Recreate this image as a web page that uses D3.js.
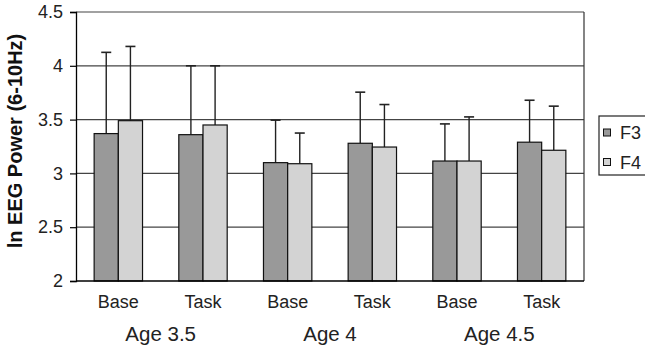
<!DOCTYPE html>
<html><head><meta charset="utf-8">
<script src="https://cdn.jsdelivr.net/npm/d3@7"></script>
<style>body{margin:0;background:#fff;} svg{display:block;}</style>
</head><body>
<script>
const conditions = ["Base","Task","Base","Task","Base","Task"];
const ages = ["Age 3.5","Age 4","Age 4.5"];
const series = ["F3","F4"];
const f3Means = [3.37, 3.36, 3.10, 3.28, 3.115, 3.29];
const f4Means = [3.49, 3.45, 3.09, 3.245, 3.115, 3.215];
const f3Upper = [4.125, 4.0, 3.495, 3.755, 3.46, 3.68];
const f4Upper = [4.18, 4.0, 3.375, 3.64, 3.525, 3.625];
const yTicks = [2, 2.5, 3, 3.5, 4, 4.5];
const colors = ["#999999", "#d3d3d3"];

const FONT = "Arial, 'Liberation Sans', sans-serif";
const W = 645, H = 350;
const m = {left: 76, right: 61, top: 12, bottom: 69};
const svg = d3.select("body").append("svg").attr("width", W).attr("height", H);
const iw = W - m.left - m.right, ih = H - m.top - m.bottom;
const g = svg.append("g").attr("transform", `translate(${m.left},${m.top})`);

const idx = d3.range(conditions.length);
const x = d3.scaleBand().domain(idx).range([0, iw]).paddingInner(0.4286).paddingOuter(0.2143);
const xs = d3.scaleBand().domain(series).range([0, x.bandwidth()]);
const y = d3.scaleLinear().domain([2, 4.5]).range([ih, 0]);

// gridlines
g.append("g").selectAll("line").data(yTicks.filter(t => t > 2)).join("line")
  .attr("x1", 0).attr("x2", iw).attr("y1", d => y(d)).attr("y2", d => y(d))
  .attr("stroke", "#444").attr("stroke-width", 1.2);

// y axis
const ya = g.append("g").call(d3.axisLeft(y).tickValues(yTicks).tickSize(6).tickPadding(7).tickFormat(d3.format("")));
ya.select(".domain").attr("stroke", "#000").attr("stroke-width", 1.3);
ya.selectAll(".tick line").attr("stroke", "#000").attr("stroke-width", 1.2);
ya.selectAll("text").attr("font-family", FONT).attr("font-size", 18).attr("fill", "#222");

// right border
g.append("line").attr("x1", iw).attr("x2", iw).attr("y1", 0).attr("y2", ih).attr("stroke", "#333").attr("stroke-width", 1.2);

const data = [];
idx.forEach(i => {
  data.push({i, s: "F3", v: f3Means[i], u: f3Upper[i], c: colors[0]});
  data.push({i, s: "F4", v: f4Means[i], u: f4Upper[i], c: colors[1]});
});

// error bars
const eb = g.append("g").selectAll("g").data(data).join("g");
eb.append("line")
  .attr("x1", d => x(d.i) + xs(d.s) + xs.bandwidth()/2)
  .attr("x2", d => x(d.i) + xs(d.s) + xs.bandwidth()/2)
  .attr("y1", d => y(d.v)).attr("y2", d => y(d.u))
  .attr("stroke", "#222").attr("stroke-width", 1.4);
eb.append("line")
  .attr("x1", d => x(d.i) + xs(d.s) + xs.bandwidth()/2 - 5)
  .attr("x2", d => x(d.i) + xs(d.s) + xs.bandwidth()/2 + 5)
  .attr("y1", d => y(d.u)).attr("y2", d => y(d.u))
  .attr("stroke", "#222").attr("stroke-width", 1.6);

// bars
g.append("g").selectAll("rect").data(data).join("rect")
  .attr("x", d => x(d.i) + xs(d.s))
  .attr("width", xs.bandwidth())
  .attr("y", d => y(d.v))
  .attr("height", d => y(2) - y(d.v))
  .attr("fill", d => d.c).attr("stroke", "#111").attr("stroke-width", 1.2);

// x axis baseline
g.append("line").attr("x1", 0).attr("x2", iw).attr("y1", ih).attr("y2", ih).attr("stroke", "#000").attr("stroke-width", 1.3);

// condition labels
g.append("g").selectAll("text").data(idx).join("text")
  .attr("x", d => x(d) + x.bandwidth()/2).attr("y", ih + 27)
  .attr("text-anchor", "middle")
  .attr("font-family", FONT).attr("font-size", 18).attr("fill", "#222")
  .text(d => conditions[d]);

// age labels
g.append("g").selectAll("text").data(ages).join("text")
  .attr("x", (d, k) => (x(2*k) + x(2*k+1) + x.bandwidth())/2).attr("y", ih + 60)
  .attr("text-anchor", "middle")
  .attr("font-family", FONT).attr("font-size", 20.5).attr("fill", "#222")
  .text(d => d);

// y title
svg.append("text")
  .attr("transform", `translate(22,141) rotate(-90)`)
  .attr("text-anchor", "middle")
  .attr("font-family", FONT).attr("font-size", 20).attr("font-weight", "bold").attr("fill", "#111")
  .text("ln EEG Power (6-10Hz)");

// legend
const lg = svg.append("g").attr("transform", "translate(599,116)");
lg.append("rect").attr("x", 0).attr("y", 0).attr("width", 60).attr("height", 59)
  .attr("fill", "#fff").attr("stroke", "#222").attr("stroke-width", 1.2);
const li = lg.selectAll("g").data(series).join("g").attr("transform", (d, k) => `translate(0,${16.5 + k*29.5})`);
li.append("rect").attr("x", 4.5).attr("y", -3.5).attr("width", 7).attr("height", 7)
  .attr("fill", (d, k) => colors[k]).attr("stroke", "#111").attr("stroke-width", 1);
li.append("text").attr("x", 21).attr("y", 6.5)
  .attr("font-family", FONT).attr("font-size", 18).attr("fill", "#222")
  .text(d => d);
</script>
</body></html>
